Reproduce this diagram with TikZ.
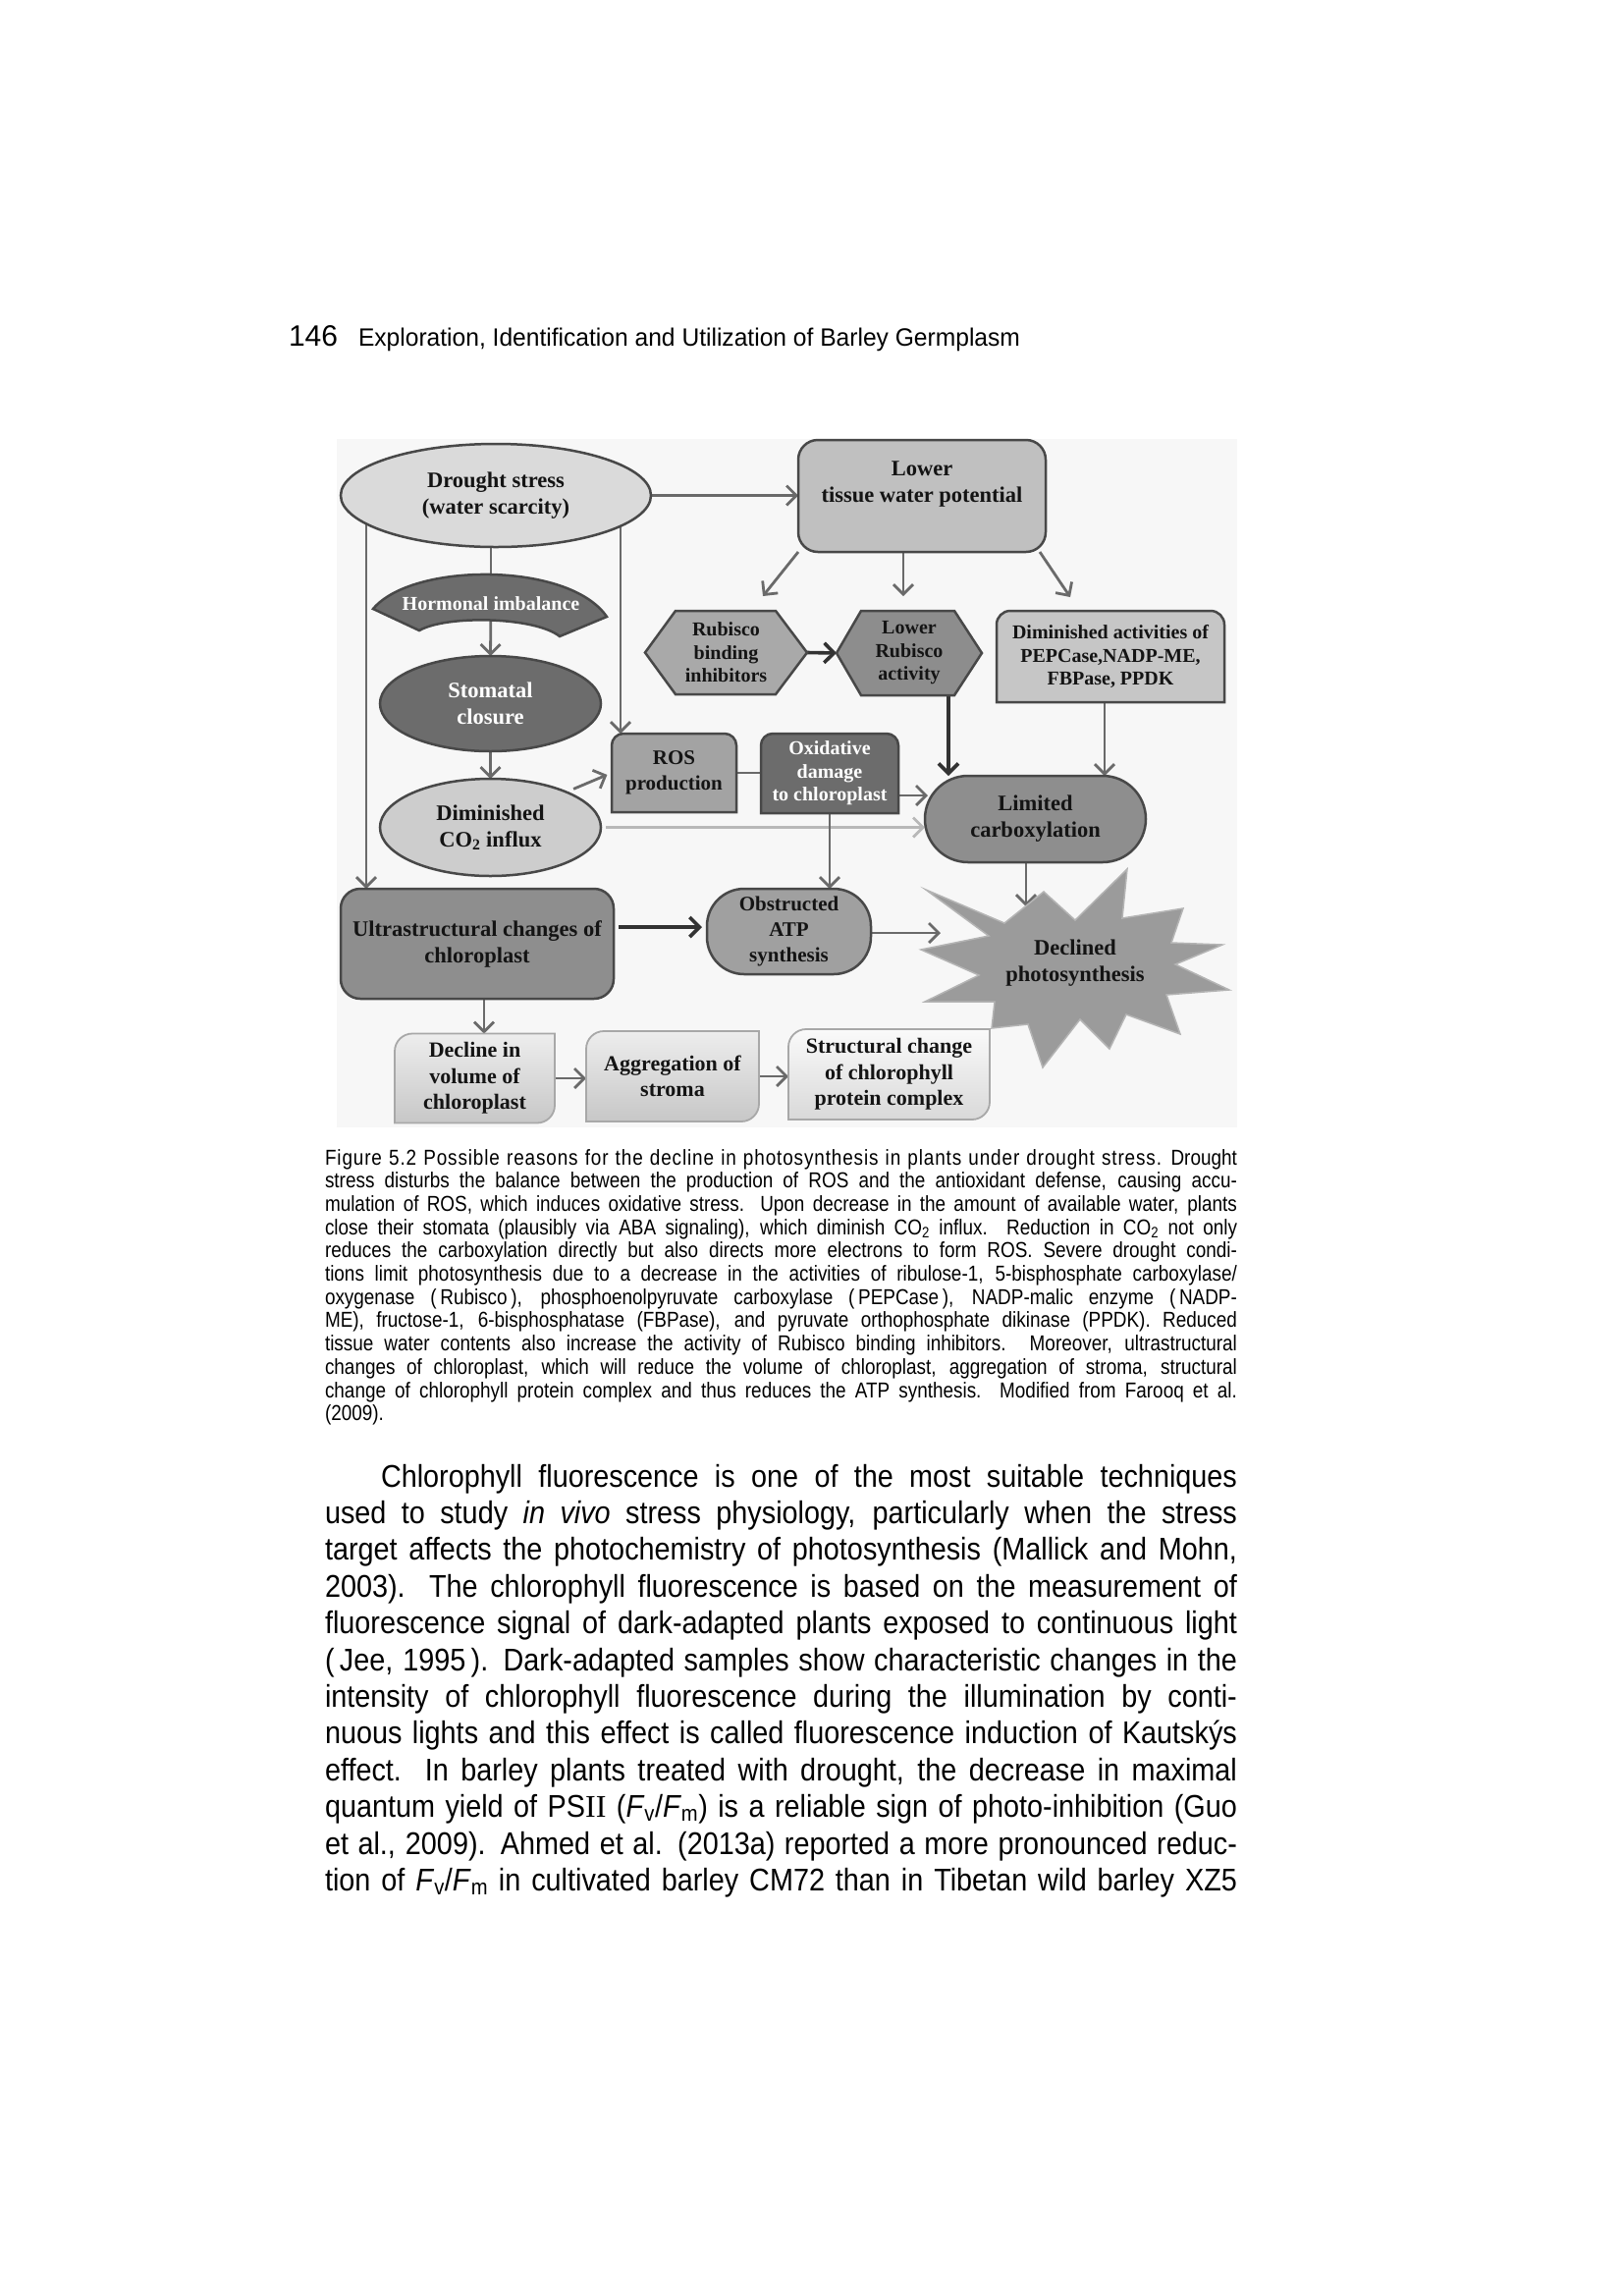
\documentclass[tikz,border=0pt]{standalone}
\usepackage{fontspec}
\usepackage{graphicx}
\setmainfont{Liberation Serif}
\newfontfamily\capfont[FakeStretch=0.86]{Liberation Sans}
\newfontfamily\bodyfont[FakeStretch=0.9]{Liberation Sans}
\newfontfamily\headfont{Liberation Sans}
\newfontfamily\dgfont{Liberation Serif Bold}
\usetikzlibrary{shapes.geometric,arrows.meta,calc}
\pgfdeclarelayer{bg}
\pgfdeclarelayer{shp}
\pgfsetlayers{bg,shp,main}
\definecolor{bd}{HTML}{484848}
\definecolor{ar}{HTML}{6A6A6A}
\definecolor{ardk}{HTML}{333333}
\definecolor{arlt}{HTML}{B8B8B8}
\definecolor{figbg}{HTML}{F7F7F7}
\definecolor{cdrought}{HTML}{DADADA}
\definecolor{clower}{HTML}{C0C0C0}
\definecolor{cdark}{HTML}{6C6C6C}
\definecolor{cdimin}{HTML}{CDCDCD}
\definecolor{crub}{HTML}{A9A9A9}
\definecolor{clowrub}{HTML}{8D8D8D}
\definecolor{cdimact}{HTML}{C6C6C6}
\definecolor{cros}{HTML}{A3A3A3}
\definecolor{cmid}{HTML}{8E8E8E}
\definecolor{cobstr}{HTML}{A0A0A0}
\definecolor{cstar}{HTML}{9B9B9B}
\definecolor{cstarbd}{HTML}{B4B4B4}
\definecolor{lbd}{HTML}{A8A8A8}
\definecolor{txt}{HTML}{141414}
\begin{document}
\begin{tikzpicture}[x=1pt,y=-1pt,
  every node/.style={inner sep=0pt,outer sep=0pt},
  dg/.style={font=\dgfont\fontsize{22.5}{27}\selectfont,align=center,text=txt},
  dgb/.style={font=\dgfont\fontsize{22}{26.5}\selectfont,align=center,text=txt},
  dgm/.style={font=\dgfont\fontsize{21}{26}\selectfont,align=center,text=txt},
  dgs/.style={font=\dgfont\fontsize{20}{23.5}\selectfont,align=center,text=txt},
  bx/.style={draw=bd,line width=2.5pt},
  lbx/.style={draw=lbd,line width=1.8pt},
  arr/.style={draw=ar,line width=2.8pt,-{Straight Barb[length=10pt,width=20pt,line width=2.8pt]}},
  arrdk/.style={draw=ardk,line width=3.6pt,-{Straight Barb[length=10pt,width=20pt,line width=3.6pt]}},
  arrlt/.style={draw=arlt,line width=2.8pt,-{Straight Barb[length=10pt,width=20pt,line width=2.8pt]}},
  ln/.style={draw=ar,line width=2.8pt}]
\useasboundingbox (0,0) rectangle (1653,2338);

% ---------- running head ----------
\node[anchor=base west,font=\headfont\fontsize{30}{30}\selectfont] (pgnum) at (294,352) {146};
\node[anchor=base west,font=\headfont\fontsize{25.5}{25.5}\selectfont] (runhead) at (365,352)
  {\resizebox{674pt}{\height}{Exploration, Identification and Utilization of Barley Germplasm}};

% ---------- nodes ----------
\node[ellipse,bx,fill=cdrought,minimum width=316pt,minimum height=105pt,dg] (drought) at (505,504.5) {Drought stress\\(water scarcity)};
\node[rectangle,rounded corners=20pt,bx,fill=clower,minimum width=252pt,minimum height=114pt] (lower) at (939,505) {};
\node[dg] (lowertxt) at (939,493.5) {Lower\\tissue water potential};
\node[dgs,text=white] (horm) at (500,615) {Hormonal imbalance};
\node[ellipse,bx,fill=cdark,minimum width=225pt,minimum height=97pt,dg,text=white] (stoma) at (499.5,716.5) {Stomatal\\closure};
\node[ellipse,bx,fill=cdimin,minimum width=225pt,minimum height=99pt,dg] (dimin) at (499.5,842.5) {Diminished\\CO\textsubscript{2} influx};
\node[minimum width=165pt,minimum height=85pt,dgs] (rubbind) at (739.5,664.5) {Rubisco\\binding\\inhibitors};
\node[minimum width=148pt,minimum height=86pt,dgs] (lowrub) at (926,665) {Lower\\Rubisco\\activity};
\node[minimum width=232pt,minimum height=93pt,dgs] (dimact) at (1131,668.5) {Diminished activities of\\PEPCase,NADP-ME,\\FBPase, PPDK};
\node[minimum width=127pt,minimum height=80pt,dgm] (ros) at (686.5,787) {ROS\\production};
\node[minimum width=140pt,minimum height=81pt,dgs,text=white] (oxid) at (845,787.5) {Oxidative\\damage\\to chloroplast};
\node[rectangle,rounded corners=44pt,bx,fill=cmid,minimum width=225pt,minimum height=88pt,dg] (limit) at (1054.5,834) {Limited\\carboxylation};
\node[rectangle,rounded corners=20pt,bx,fill=cmid,minimum width=278pt,minimum height=112pt,dg] (ultra) at (486,961) {Ultrastructural changes of\\chloroplast};
\node[rectangle,rounded corners=38pt,bx,fill=cobstr,minimum width=167pt,minimum height=87pt,dgm] (obstr) at (803.5,948.5) {Obstructed\\ATP\\synthesis};
\node[dg] (star) at (1095,981) {Declined\\photosynthesis};
\node[minimum width=163pt,minimum height=91pt,dgb] (decl) at (483.5,1098) {Decline in\\volume of\\chloroplast};
\node[minimum width=176pt,minimum height=92pt,dgb] (aggr) at (685,1096) {Aggregation of\\stroma};
\node[minimum width=205pt,minimum height=92pt,dgb] (struc) at (905.5,1094) {Structural change\\of chlorophyll\\protein complex};

% ---------- drawn shapes ----------
\begin{pgfonlayer}{shp}
\path[bx,fill=cdark] (380,620) .. controls (420,572) and (580,572) .. (618,628)
   -- (570,648) .. controls (545,628) and (455,626) .. (427,642) -- cycle;
\path[bx,fill=crub] (rubbind.west) -- ([xshift=31pt]rubbind.north west) -- ([xshift=-32pt]rubbind.north east)
   -- (rubbind.east) -- ([xshift=-32pt]rubbind.south east) -- ([xshift=31pt]rubbind.south west) -- cycle;
\path[bx,fill=clowrub] (lowrub.west) -- ([xshift=25pt]lowrub.north west) -- ([xshift=-28pt]lowrub.north east)
   -- (lowrub.east) -- ([xshift=-28pt]lowrub.south east) -- ([xshift=25pt]lowrub.south west) -- cycle;
\path[bx,fill=cdimact] (dimact.south west) -- ([yshift=-14pt]dimact.north west) arc[start angle=180,end angle=90,radius=14pt]
   -- ([xshift=-14pt]dimact.north east) arc[start angle=90,end angle=0,radius=14pt] -- (dimact.south east) -- cycle;
\path[bx,fill=cros] (ros.south west) -- ([yshift=-12pt]ros.north west) arc[start angle=180,end angle=90,radius=12pt]
   -- ([xshift=-12pt]ros.north east) arc[start angle=90,end angle=0,radius=12pt] -- (ros.south east) -- cycle;
\path[bx,fill=cdark] (oxid.south west) -- ([yshift=-12pt]oxid.north west) arc[start angle=180,end angle=90,radius=12pt]
   -- ([xshift=-12pt]oxid.north east) arc[start angle=90,end angle=0,radius=12pt] -- (oxid.south east) -- cycle;
\path[draw=cstarbd,line width=1.5pt,fill=cstar] (943,906) -- (1023,940) -- (1063,908) -- (1095,937) -- (1148,885)
   -- (1143,935) -- (1205,925) -- (1193,960) -- (1245,962) -- (1197,982) -- (1252,1008) -- (1188,1013)
   -- (1202,1053) -- (1147,1033) -- (1130,1068) -- (1100,1038) -- (1062,1087) -- (1047,1043) -- (1010,1047)
   -- (1013,1020) -- (942,1020) -- (997,993) -- (938,967) -- (1007,953) -- cycle;
\path[lbx,top color=white!93!black,bottom color=white!78!black] (decl.south west) -- ([yshift=-18pt]decl.north west)
   arc[start angle=180,end angle=90,radius=18pt] -- (decl.north east) -- ([yshift=18pt]decl.south east)
   arc[start angle=0,end angle=-90,radius=18pt] -- cycle;
\path[lbx,top color=white!93!black,bottom color=white!78!black] (aggr.south west) -- ([yshift=-18pt]aggr.north west)
   arc[start angle=180,end angle=90,radius=18pt] -- (aggr.north east) -- ([yshift=18pt]aggr.south east)
   arc[start angle=0,end angle=-90,radius=18pt] -- cycle;
\path[lbx,top color=white!98!black,bottom color=white!85!black] (struc.south west) -- ([yshift=-18pt]struc.north west)
   arc[start angle=180,end angle=90,radius=18pt] -- (struc.north east) -- ([yshift=18pt]struc.south east)
   arc[start angle=0,end angle=-90,radius=18pt] -- cycle;
\end{pgfonlayer}

% ---------- connectors ----------
\coordinate (xL) at (373,0);
\coordinate (xR) at (632,0);
\coordinate (y810) at (0,810);
\coordinate (t810) at (945,810);
\coordinate (y944) at (0,944);
\coordinate (x966) at (966,0);
\coordinate (x1125) at (1125,0);
\coordinate (x493) at (493,0);
\coordinate (e1) at (777,607);
\coordinate (e2) at (920,607);
\coordinate (e3) at (1090,608);
\coordinate (s1) at (1045,923);
\coordinate (s2) at (958,950);
\begin{pgfonlayer}{bg}
\fill[white] (0,0) rectangle (1653,2338);
\fill[figbg] (343,447) rectangle (1260,1148);
\draw[arr] (drought.east) -- (drought.east -| lower.west);
\draw[arr] (drought.center -| xL) -- (ultra.north -| xL);
\draw[arr] (drought.center -| xR) -- (ros.north -| xR);
\draw[ln] (drought.center -| horm.center) -- (horm.center);
\draw[arr] (horm.center) -- (stoma.north);
\draw[arr] (stoma.south) -- (dimin.north);
\draw[arr,shorten <=8pt,shorten >=5pt] (dimin.25) -- (ros.west);
\draw[arrlt] ([xshift=5pt]dimin.east) -- (dimin.east -| limit.west);
\draw[ln] (ros.east) -- (ros.east -| oxid.west);
\draw[arr] (oxid.east |- y810) -- (t810);
\draw[arr] (oxid.south) -- (oxid.south |- obstr.north);
\draw[arr] (lower.south west) -- (e1);
\draw[arr] (lower.south -| e2) -- (e2);
\draw[arr] ([xshift=-6pt]lower.south east) -- (e3);
\draw[arrdk] (rubbind.east) -- (lowrub.west);
\draw[arrdk] (lowrub.south -| x966) -- (limit.north -| x966);
\draw[arr] (dimact.south -| x1125) -- (limit.north -| x1125);
\draw[arr] (limit.south -| s1) -- (s1);
\draw[arrdk,shorten <=5pt,shorten >=5pt] (ultra.east |- y944) -- (obstr.west |- y944);
\draw[arr] (obstr.east |- s2) -- (s2);
\draw[arr] (ultra.south -| x493) -- (decl.north -| x493);
\draw[arr] (decl.east) -- (decl.east -| aggr.west);
\draw[arr] (aggr.east) -- (aggr.east -| struc.west);
\end{pgfonlayer}

% ---------- caption ----------
\node[anchor=base west] (caption) at (331,1186) {\parbox[t]{929pt}{\capfont\fontsize{22}{23.7}\selectfont
\lineskiplimit=-100pt\lineskip=0pt
\makebox[929pt][s]{{\addfontfeature{LetterSpace=4}Figure 5.2 Possible reasons for the decline in photosynthesis in plants under drought stress.} Drought}\\
\makebox[929pt][s]{stress disturbs the balance between the production of ROS and the antioxidant defense, causing accu-}\\
\makebox[929pt][s]{mulation of ROS, which induces oxidative stress. Upon decrease in the amount of available water, plants}\\
\makebox[929pt][s]{close their stomata (plausibly via ABA signaling), which diminish CO\textsubscript{2} influx. Reduction in CO\textsubscript{2} not only}\\
\makebox[929pt][s]{reduces the carboxylation directly but also directs more electrons to form ROS. Severe drought condi-}\\
\makebox[929pt][s]{tions limit photosynthesis due to a decrease in the activities of ribulose-1, 5-bisphosphate carboxylase/}\\
\makebox[929pt][s]{oxygenase (\,Rubisco\,), phosphoenolpyruvate carboxylase (\,PEPCase\,), NADP-malic enzyme (\,NADP-}\\
\makebox[929pt][s]{ME), fructose-1, 6-bisphosphatase (FBPase), and pyruvate orthophosphate dikinase (PPDK). Reduced}\\
\makebox[929pt][s]{tissue water contents also increase the activity of Rubisco binding inhibitors. Moreover, ultrastructural}\\
\makebox[929pt][s]{changes of chloroplast, which will reduce the volume of chloroplast, aggregation of stroma, structural}\\
\makebox[929pt][s]{change of chlorophyll protein complex and thus reduces the ATP synthesis. Modified from Farooq et al.}\\
(2009).}};

% ---------- body text ----------
\node[anchor=base west] (body) at (331,1514) {\parbox[t]{929pt}{\bodyfont\fontsize{32}{37.4}\selectfont
\lineskiplimit=-100pt\lineskip=0pt
\makebox[929pt][s]{\hspace{57pt}Chlorophyll fluorescence is one of the most suitable techniques}\\
\makebox[929pt][s]{used to study \textit{in vivo} stress physiology, particularly when the stress}\\
\makebox[929pt][s]{target affects the photochemistry of photosynthesis (Mallick and Mohn,}\\
\makebox[929pt][s]{2003). The chlorophyll fluorescence is based on the measurement of}\\
\makebox[929pt][s]{fluorescence signal of dark-adapted plants exposed to continuous light}\\
\makebox[929pt][s]{(\,Jee, 1995\,). Dark-adapted samples show characteristic changes in the}\\
\makebox[929pt][s]{intensity of chlorophyll fluorescence during the illumination by conti-}\\
\makebox[929pt][s]{nuous lights and this effect is called fluorescence induction of Kautskýs}\\
\makebox[929pt][s]{effect. In barley plants treated with drought, the decrease in maximal}\\
\makebox[929pt][s]{quantum yield of PS{\rmfamily II} (\textit{F}\textsubscript{v}/\textit{F}\textsubscript{m}) is a reliable sign of photo-inhibition (Guo}\\
\makebox[929pt][s]{et al., 2009). Ahmed et al. (2013a) reported a more pronounced reduc-}\\
\makebox[929pt][s]{tion of \textit{F}\textsubscript{v}/\textit{F}\textsubscript{m} in cultivated barley CM72 than in Tibetan wild barley XZ5}}};
\end{tikzpicture}
\end{document}
